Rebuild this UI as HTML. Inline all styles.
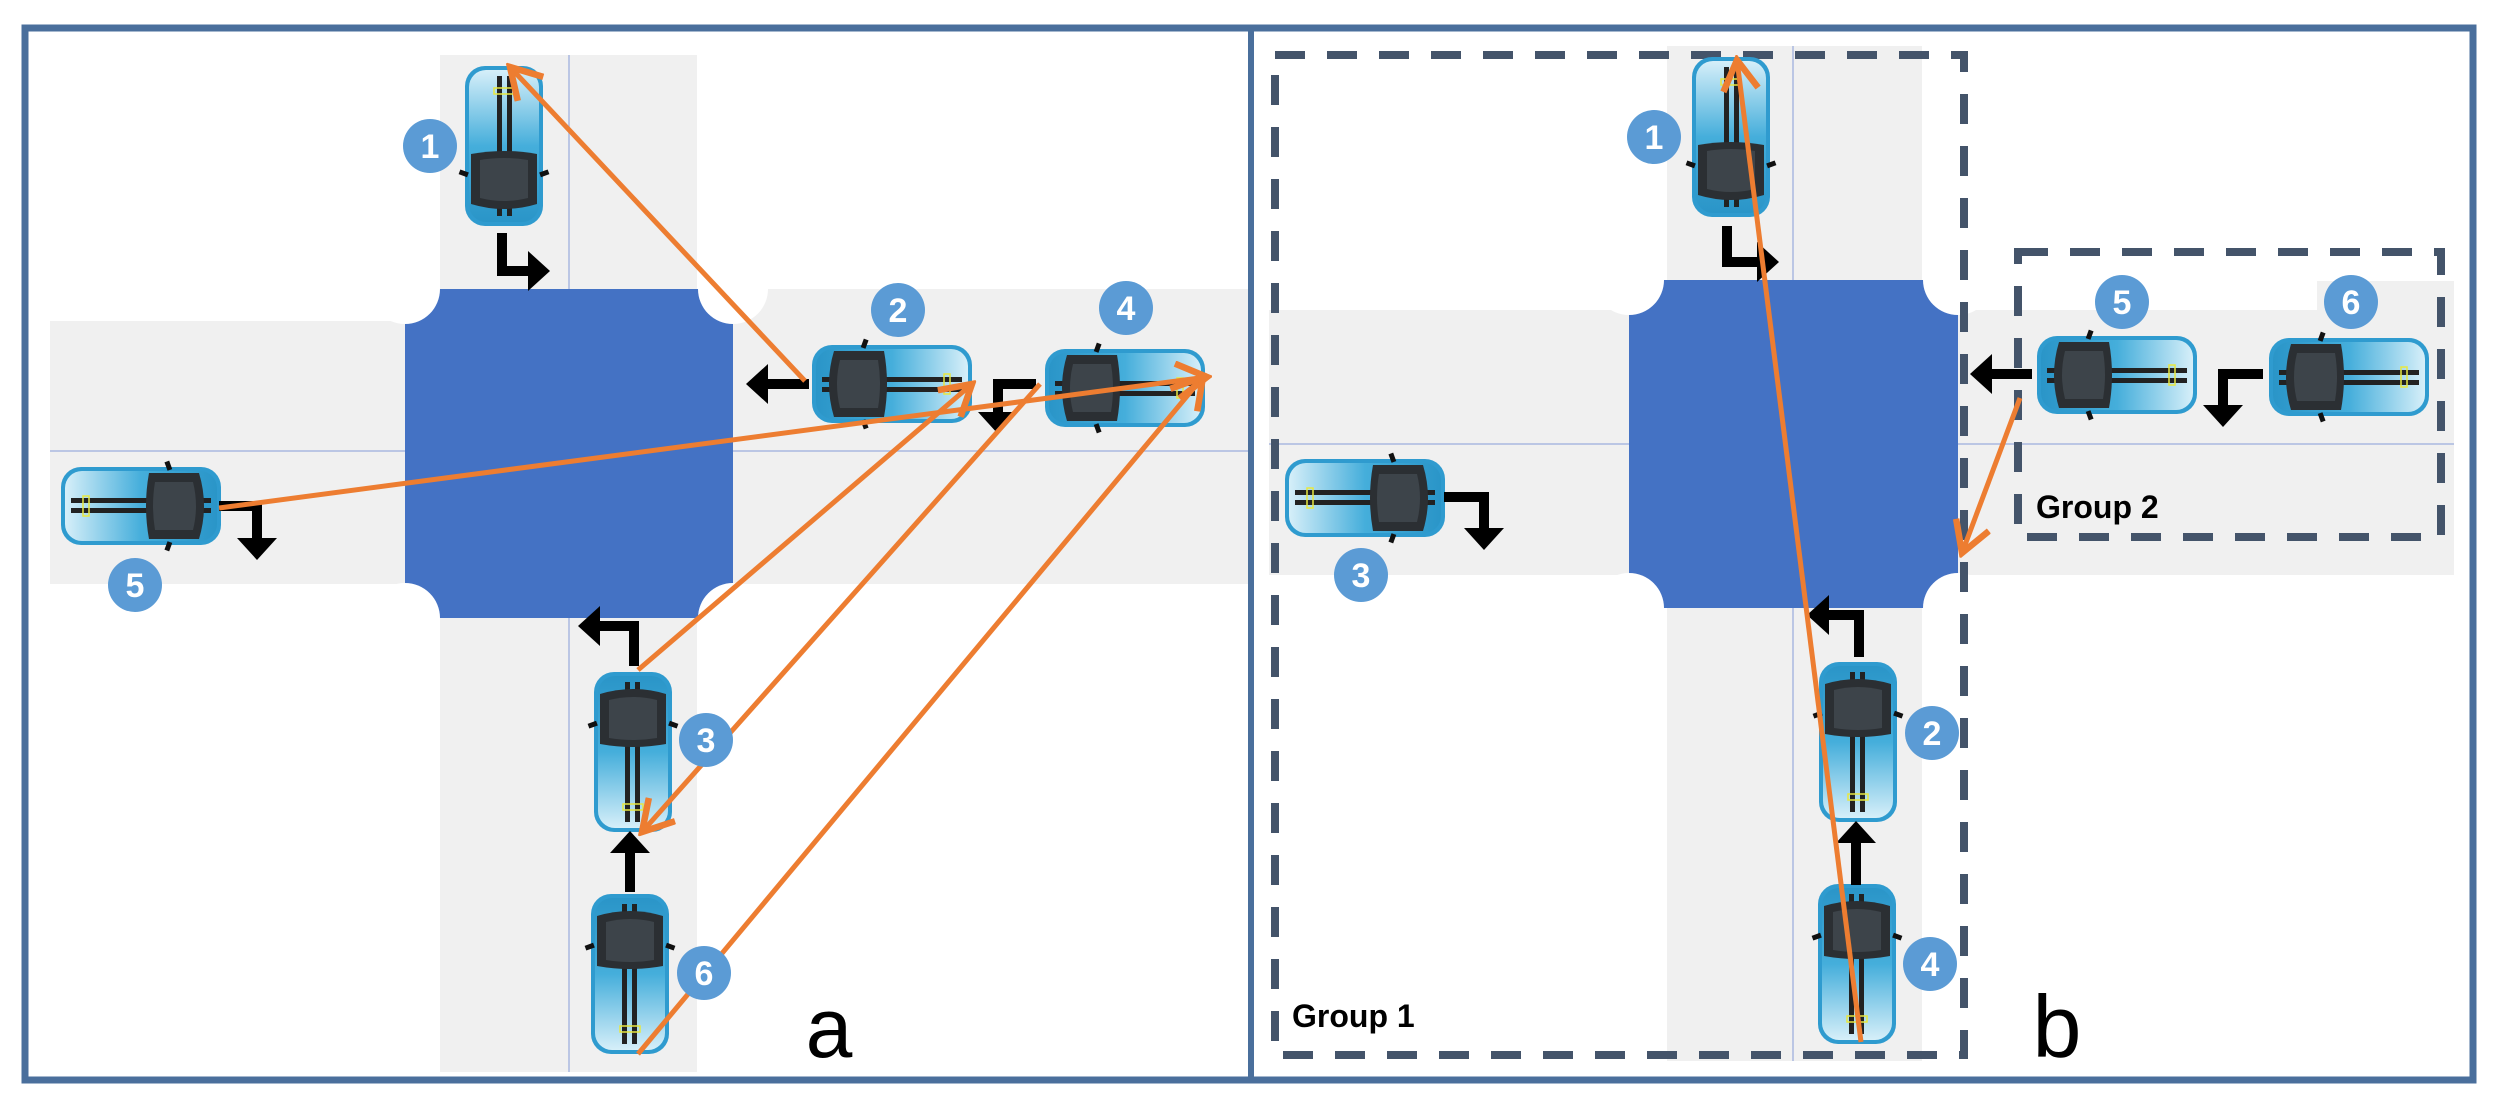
<!DOCTYPE html>
<html><head><meta charset="utf-8"><style>
html,body{margin:0;padding:0;background:#fff;}
svg{display:block;}
</style></head><body>
<svg width="2499" height="1105" viewBox="0 0 2499 1105" xmlns="http://www.w3.org/2000/svg">
<defs>
<linearGradient id="cg" x1="0" y1="0" x2="1" y2="0">
<stop offset="0" stop-color="#2a95c8"/><stop offset="0.5" stop-color="#45aedb"/><stop offset="1" stop-color="#d6eff9"/>
</linearGradient>
<g id="car">
<rect x="-80" y="-39" width="160" height="78" rx="20" fill="#2f9bcf"/>
<rect x="-76" y="-35" width="152" height="70" rx="17" fill="url(#cg)"/>
<rect x="-70" y="-7" width="140" height="5" fill="#222"/>
<rect x="-70" y="3" width="140" height="5" fill="#222"/>
<rect x="52" y="-10" width="6" height="20" fill="none" stroke="#e8e840" stroke-width="1.5"/>
<path d="M-58 -33 Q-68 0 -58 33 L-8 33 Q-2 0 -8 -33 Z" fill="#2b2f33"/>
<path d="M-52 -24 Q-58 0 -52 24 L-14 24 Q-10 0 -14 -24 Z" fill="#3d444a"/>
<rect x="-30" y="-45" width="5" height="9" fill="#111" transform="rotate(20 -28 -40)"/>
<rect x="-30" y="36" width="5" height="9" fill="#111" transform="rotate(-20 -28 40)"/>
</g>
<marker id="bk" markerWidth="4" markerHeight="4" refX="1" refY="2" orient="auto" markerUnits="strokeWidth"><path d="M0,0 L2.2,2 L0,4 Z" fill="#000"/></marker>
<marker id="or" markerWidth="8" markerHeight="8" refX="7" refY="4" orient="auto" markerUnits="strokeWidth"><path d="M1,0.5 L7,4 L1,7.5" fill="none" stroke="#ed7d31" stroke-width="1.3"/></marker>
</defs>

<!-- ===== Panel a ===== -->
<rect x="440" y="55" width="257" height="1017" fill="#f0f0f0"/>
<rect x="50" y="321" width="360" height="263" fill="#f0f0f0"/>
<rect x="733" y="289" width="517" height="295" fill="#f0f0f0"/>
<line x1="569" y1="55" x2="569" y2="1072" stroke="#a9b8e0" stroke-width="1.5"/>
<line x1="50" y1="451" x2="1250" y2="451" stroke="#a9b8e0" stroke-width="1.5"/>
<rect x="405" y="289" width="328" height="329" fill="#4472c4"/>
<circle cx="405" cy="289" r="35" fill="#fff"/>
<circle cx="733" cy="289" r="35" fill="#fff"/>
<circle cx="405" cy="618" r="35" fill="#fff"/>
<circle cx="733" cy="618" r="35" fill="#fff"/>

<use href="#car" transform="translate(504,146) rotate(-90)"/>
<use href="#car" transform="translate(892,384)"/>
<use href="#car" transform="translate(1125,388)"/>
<use href="#car" transform="translate(141,506) rotate(180)"/>
<use href="#car" transform="translate(633,752) rotate(90)"/>
<use href="#car" transform="translate(630,974) rotate(90)"/>

<g stroke="#000" stroke-width="10" fill="none">
<path d="M502 233 L502 271 L538 271" marker-end="url(#bk)"/>
<path d="M809 384 L758 384" marker-end="url(#bk)"/>
<path d="M1036 384 L998 384 L998 422" marker-end="url(#bk)"/>
<path d="M219 506 L257 506 L257 548" marker-end="url(#bk)"/>
<path d="M634 666 L634 626 L590 626" marker-end="url(#bk)"/>
<path d="M630 892 L630 843" marker-end="url(#bk)"/>
</g>

<g stroke="#ed7d31" stroke-width="5" fill="none">
<line x1="805" y1="381" x2="510" y2="67" marker-end="url(#or)"/>
<line x1="219" y1="508" x2="1207" y2="377" marker-end="url(#or)"/>
<line x1="638" y1="670" x2="972" y2="384" marker-end="url(#or)"/>
<line x1="1040" y1="384" x2="642" y2="832" marker-end="url(#or)"/>
<line x1="638" y1="1054" x2="1203" y2="377" marker-end="url(#or)"/>
</g>

<g font-family="Liberation Sans, sans-serif" font-weight="bold" font-size="34" fill="#fff" text-anchor="middle">
<circle cx="430" cy="146" r="27" fill="#5b9bd5"/><text x="430" y="158">1</text>
<circle cx="898" cy="310" r="27" fill="#5b9bd5"/><text x="898" y="322">2</text>
<circle cx="1126" cy="308" r="27" fill="#5b9bd5"/><text x="1126" y="320">4</text>
<circle cx="135" cy="585" r="27" fill="#5b9bd5"/><text x="135" y="597">5</text>
<circle cx="706" cy="740" r="27" fill="#5b9bd5"/><text x="706" y="752">3</text>
<circle cx="704" cy="973" r="27" fill="#5b9bd5"/><text x="704" y="985">6</text>
</g>
<text x="829" y="1057" font-family="Liberation Sans, sans-serif" font-size="84" fill="#000" text-anchor="middle">a</text>

<!-- ===== Panel b ===== -->
<rect x="1667" y="46" width="255" height="1015" fill="#f0f0f0"/>
<rect x="1269" y="310" width="1185" height="265" fill="#f0f0f0"/>
<rect x="2317" y="281" width="137" height="30" fill="#f0f0f0"/>
<line x1="1793" y1="46" x2="1793" y2="1061" stroke="#a9b8e0" stroke-width="1.5"/>
<line x1="1269" y1="444" x2="2454" y2="444" stroke="#a9b8e0" stroke-width="1.5"/>
<rect x="1629" y="280" width="329" height="328" fill="#4472c4"/>
<circle cx="1629" cy="280" r="35" fill="#fff"/>
<circle cx="1958" cy="280" r="35" fill="#fff"/>
<circle cx="1629" cy="608" r="35" fill="#fff"/>
<circle cx="1958" cy="608" r="35" fill="#fff"/>

<rect x="1275" y="55" width="689" height="1000" fill="none" stroke="#44546a" stroke-width="8" stroke-dasharray="30 22"/>
<rect x="2018" y="252" width="423" height="285" fill="none" stroke="#44546a" stroke-width="8" stroke-dasharray="30 22"/>

<use href="#car" transform="translate(1731,137) rotate(-90)"/>
<use href="#car" transform="translate(2117,375)"/>
<use href="#car" transform="translate(2349,377)"/>
<use href="#car" transform="translate(1365,498) rotate(180)"/>
<use href="#car" transform="translate(1858,742) rotate(90)"/>
<use href="#car" transform="translate(1857,964) rotate(90)"/>

<g stroke="#000" stroke-width="10" fill="none">
<path d="M1727 226 L1727 262 L1767 262" marker-end="url(#bk)"/>
<path d="M2032 374 L1982 374" marker-end="url(#bk)"/>
<path d="M2263 374 L2223 374 L2223 415" marker-end="url(#bk)"/>
<path d="M1444 497 L1484 497 L1484 538" marker-end="url(#bk)"/>
<path d="M1859 657 L1859 615 L1819 615" marker-end="url(#bk)"/>
<path d="M1856 885 L1856 833" marker-end="url(#bk)"/>
</g>

<g stroke="#ed7d31" stroke-width="5" fill="none">
<line x1="1861" y1="1042" x2="1737" y2="60" marker-end="url(#or)"/>
<line x1="2020" y1="398" x2="1962" y2="553" marker-end="url(#or)"/>
</g>

<g font-family="Liberation Sans, sans-serif" font-weight="bold" font-size="34" fill="#fff" text-anchor="middle">
<circle cx="1654" cy="137" r="27" fill="#5b9bd5"/><text x="1654" y="149">1</text>
<circle cx="2122" cy="302" r="27" fill="#5b9bd5"/><text x="2122" y="314">5</text>
<circle cx="2351" cy="302" r="27" fill="#5b9bd5"/><text x="2351" y="314">6</text>
<circle cx="1361" cy="575" r="27" fill="#5b9bd5"/><text x="1361" y="587">3</text>
<circle cx="1932" cy="733" r="27" fill="#5b9bd5"/><text x="1932" y="745">2</text>
<circle cx="1930" cy="964" r="27" fill="#5b9bd5"/><text x="1930" y="976">4</text>
</g>
<g font-family="Liberation Sans, sans-serif" font-weight="bold" font-size="32" fill="#000">
<text x="1292" y="1027">Group 1</text>
<text x="2036" y="518">Group 2</text>
</g>
<text x="2057" y="1057" font-family="Liberation Sans, sans-serif" font-size="88" fill="#000" text-anchor="middle">b</text>

<!-- frames -->
<rect x="25" y="28" width="2448" height="1052" fill="none" stroke="#4a6f9c" stroke-width="7"/>
<line x1="1251" y1="28" x2="1251" y2="1080" stroke="#4a6f9c" stroke-width="6"/>
</svg>
</body></html>
